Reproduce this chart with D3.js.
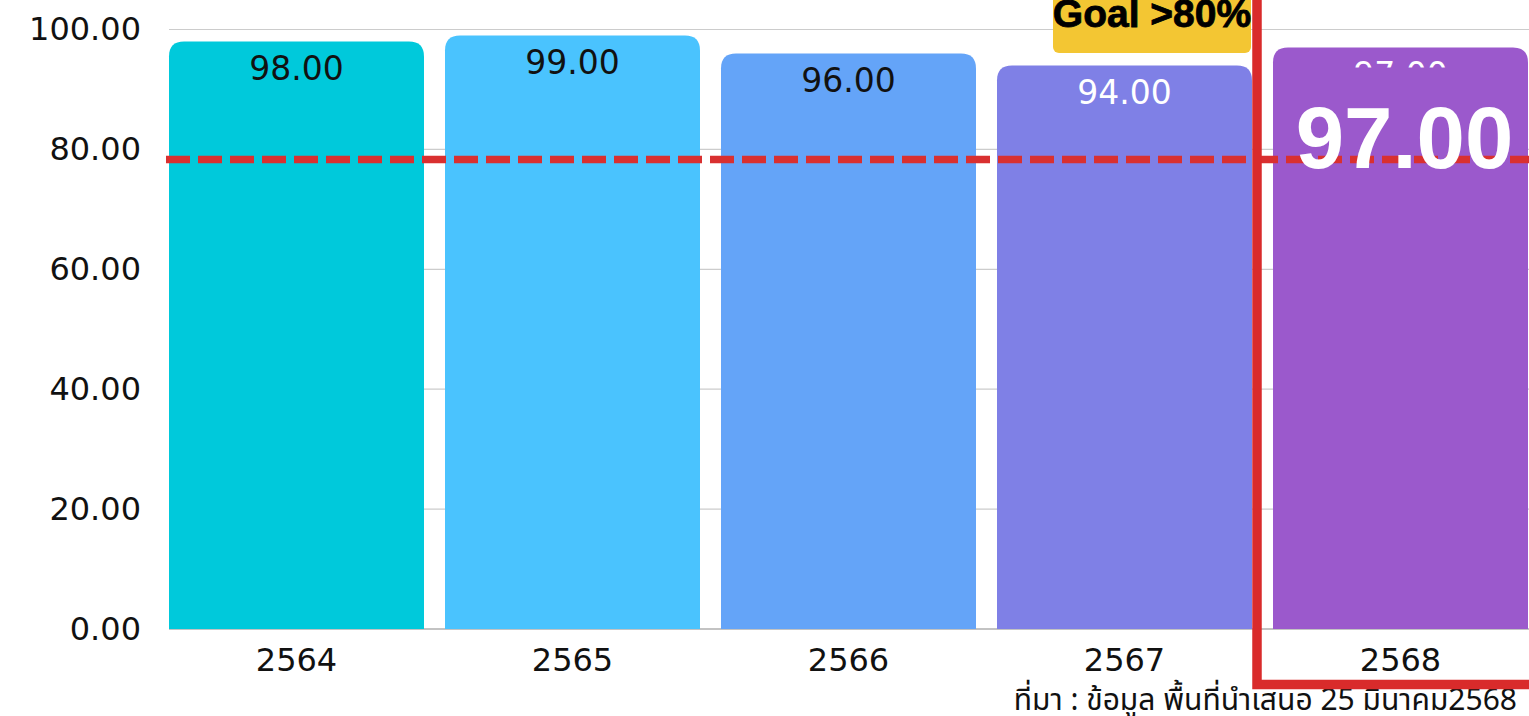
<!DOCTYPE html>
<html>
<head>
<meta charset="utf-8">
<script src="https://cdn.jsdelivr.net/npm/d3@7"></script>
<style>
  html, body { margin: 0; padding: 0; background: #ffffff; overflow: hidden; }
  svg { display: block; }
</style>
</head>
<body>
<svg id="chart" width="1529" height="716"></svg>
<script>
// Fiscal years (Buddhist era) and the percentage reached each year
const years = ["2564", "2565", "2566", "2567", "2568"];
const values = [98, 99, 96, 94, 97];
const barColors = ["#00C9DB", "#4AC3FE", "#64A4F8", "#7F80E6", "#9B59CC"];
const labelColors = ["#111111", "#111111", "#111111", "#ffffff", "#ffffff"];
const yTicks = [0, 20, 40, 60, 80, 100];
const goalLineLevel = 78.3;
const goalText = "Goal >80%";
const highlightYear = "2568";
const sourceText = "ที่มา : ข้อมูล พื้นที่นำเสนอ 25 มีนาคม2568";

const svg = d3.select("#chart");
const W = 1529, H = 716;
const margin = { top: 29.5, left: 169, bottom: 87 };
const plotBottom = H - margin.bottom;

const x = d3.scaleBand()
  .domain(years)
  .range([margin.left, 1528])
  .paddingInner(21 / 276)
  .paddingOuter(0);

const y = d3.scaleLinear()
  .domain([0, 100])
  .range([plotBottom, margin.top]);

const numFont = "'DejaVu Sans', sans-serif";

// horizontal gridlines
svg.append("g")
  .selectAll("line")
  .data(yTicks.filter(d => d > 0))
  .join("line")
  .attr("x1", margin.left)
  .attr("x2", W)
  .attr("y1", d => y(d))
  .attr("y2", d => y(d))
  .attr("stroke", "#cccccc")
  .attr("stroke-width", 1.2);

// y axis labels
const yAxis = d3.axisLeft(y).tickValues(yTicks).tickFormat(d3.format(".2f")).tickSize(0).tickPadding(28);
const gy = svg.append("g").attr("transform", `translate(${margin.left},0)`).call(yAxis);
gy.select(".domain").remove();
gy.selectAll("text")
  .attr("font-family", numFont)
  .attr("font-size", 32)
  .attr("fill", "#111111");

// baseline
svg.append("line")
  .attr("x1", margin.left).attr("x2", W)
  .attr("y1", y(0)).attr("y2", y(0))
  .attr("stroke", "#888888").attr("stroke-width", 1.2);

// bars with rounded top corners
const r = 15;
function topRoundedBar(x0, y0, w, h) {
  const rr = Math.min(r, h / 2, w / 2);
  return `M${x0},${y0 + h}V${y0 + rr}Q${x0},${y0} ${x0 + rr},${y0}` +
         `H${x0 + w - rr}Q${x0 + w},${y0} ${x0 + w},${y0 + rr}V${y0 + h}Z`;
}
const bars = years.map((yr, i) => ({ year: yr, value: values[i], color: barColors[i], label: labelColors[i] }));

svg.append("g")
  .selectAll("path")
  .data(bars)
  .join("path")
  .attr("d", d => topRoundedBar(x(d.year), y(d.value), x.bandwidth(), y(0) - y(d.value)))
  .attr("fill", d => d.color);

// x axis labels
const xAxis = d3.axisBottom(x).tickSize(0).tickPadding(19);
const gx = svg.append("g").attr("transform", `translate(0,${y(0)})`).call(xAxis);
gx.select(".domain").remove();
gx.selectAll("text")
  .attr("font-family", numFont)
  .attr("font-size", 32)
  .attr("fill", "#111111");

// value labels inside the top of each bar
const defs = svg.append("defs");
defs.append("clipPath").attr("id", "hl-clip")
  .append("rect")
  .attr("x", x(highlightYear))
  .attr("y", 0)
  .attr("width", x.bandwidth())
  .attr("height", y(values[years.indexOf(highlightYear)]) + 20);

svg.append("g")
  .selectAll("text")
  .data(bars)
  .join("text")
  .attr("x", d => x(d.year) + x.bandwidth() / 2)
  .attr("y", d => y(d.value) + 39)
  .attr("text-anchor", "middle")
  .attr("font-family", numFont)
  .attr("font-size", 33)
  .attr("fill", d => d.label)
  .attr("clip-path", d => d.year === highlightYear ? "url(#hl-clip)" : null)
  .text(d => d3.format(".2f")(d.value));

// goal line
svg.append("line")
  .attr("x1", margin.left - 3).attr("x2", W)
  .attr("y1", y(goalLineLevel)).attr("y2", y(goalLineLevel))
  .attr("stroke", "#D93030")
  .attr("stroke-width", 7.5)
  .attr("stroke-dasharray", "24 8");

// goal tag
const tagX = x("2567") + 56;
const tagRight = x("2567") + x.bandwidth() - 1;
svg.append("rect")
  .attr("x", tagX).attr("y", -20)
  .attr("width", tagRight - tagX).attr("height", 73)
  .attr("rx", 6)
  .attr("fill", "#F3C633");
svg.append("text")
  .attr("x", (tagX + tagRight) / 2)
  .attr("y", 27)
  .attr("text-anchor", "middle")
  .attr("font-family", "'Liberation Sans', Arial, sans-serif")
  .attr("font-weight", "bold")
  .attr("font-size", 39)
  .attr("stroke", "#000000")
  .attr("stroke-width", 0.8)
  .attr("fill", "#000000")
  .text(goalText);

// big value of the highlighted year
const hlIndex = years.indexOf(highlightYear);
svg.append("text")
  .attr("x", x(highlightYear) + x.bandwidth() / 2 + 4)
  .attr("y", 168)
  .attr("text-anchor", "middle")
  .attr("font-family", "'Liberation Sans', Arial, sans-serif")
  .attr("font-weight", "bold")
  .attr("font-size", 87)
  .attr("fill", "#ffffff")
  .text(d3.format(".2f")(values[hlIndex]));

// source note
svg.append("text")
  .attr("x", 1517)
  .attr("y", 710)
  .attr("text-anchor", "end")
  .attr("font-family", "'Noto Sans Thai', 'Noto Sans', sans-serif")
  .attr("font-size", 30)
  .attr("fill", "#111111")
  .text(sourceText);

// highlight frame around the latest year
const frameX = x(highlightYear) - 16;
svg.append("path")
  .attr("d", `M${frameX},-10V684.5H${W + 10}`)
  .attr("fill", "none")
  .attr("stroke", "#D92B2B")
  .attr("stroke-width", 9.5);
</script>
</body>
</html>
